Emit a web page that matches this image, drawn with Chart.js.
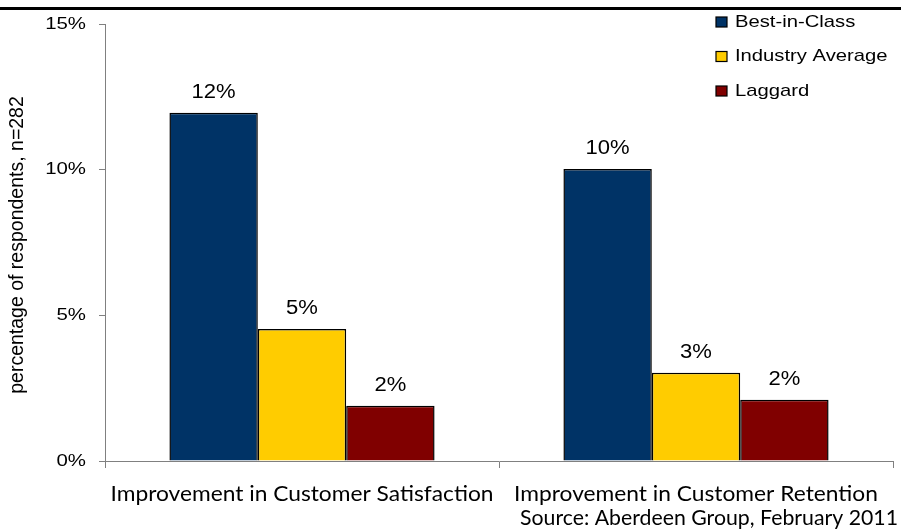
<!DOCTYPE html>
<html><head><meta charset="utf-8">
<script src="https://cdn.jsdelivr.net/npm/chart.js@4"></script>
<style>html,body{margin:0;padding:0;background:#fff}#wrap{width:901px;height:531px;position:relative}</style>
</head><body><div id="wrap"><canvas id="c" width="901" height="531"></canvas></div>
<script>
const categories = ["Improvement in Customer Satisfaction", "Improvement in Customer Retention"];
const seriesNames = ["Best-in-Class", "Industry Average", "Laggard"];
const bestInClass = [11.95, 10.02];
const industryAverage = [4.53, 3.03];
const laggard = [1.9, 2.1];
const yTicks = [0, 5, 10, 15];
const yTitle = "percentage of respondents, n=282";
const sourceText = "Source: Aberdeen Group, February 2011";
const colors = ["#003366", "#FFCC00", "#800000"];

const ARIAL = '"Liberation Sans", Arial, sans-serif';
const HUMAN = 'Lato, "Open Sans", sans-serif';

function txt(ctx, s, x, y, size, family, sx, align, baseline) {
  ctx.save();
  ctx.translate(x, y);
  ctx.scale(sx, 1);
  ctx.font = size + 'px ' + family;
  ctx.textAlign = align;
  ctx.textBaseline = baseline || 'middle';
  ctx.fillStyle = '#000';
  ctx.fillText(s, 0, 0);
  ctx.restore();
}

const extras = {
  id: 'extras',
  afterDraw(chart) {
    const ctx = chart.ctx;
    ctx.save();
    // top rule
    ctx.fillStyle = '#000';
    ctx.fillRect(0, 7, 901, 3);
    // y tick labels
    const ys = chart.scales.y;
    yTicks.forEach(v => txt(ctx, v + '%', 86, ys.getPixelForValue(v), 17, ARIAL, 1.2, 'right'));
    // x category labels (humanist font, condensed to the reference's width)
    const xs = chart.scales.x;
    ctx.font = '22px ' + HUMAN;
    const sx = 383 / ctx.measureText(categories[0]).width;
    categories.forEach((c, i) => txt(ctx, c, xs.getPixelForValue(i), 494, 22, HUMAN, sx, 'center'));
    // source
    ctx.font = '22px ' + HUMAN;
    const sx2 = 378 / ctx.measureText(sourceText).width;
    txt(ctx, sourceText, 898, 518, 22, HUMAN, sx2, 'right');
    // value labels
    chart.data.datasets.forEach((ds, i) => {
      chart.getDatasetMeta(i).data.forEach((bar, j) => {
        txt(ctx, Math.round(ds.data[j]) + '%', bar.x, bar.y - 20, 19.5, ARIAL, 1.13, 'center');
      });
    });
    // legend
    chart.data.datasets.forEach((ds, i) => {
      const y = 22 + i * 34.5;
      ctx.fillStyle = ds.backgroundColor;
      ctx.fillRect(716, y - 5, 11, 10);
      ctx.strokeStyle = '#000';
      ctx.lineWidth = 1.2;
      ctx.strokeRect(716, y - 5, 11, 10);
      txt(ctx, ds.label, 735, y, 17, ARIAL, 1.19, 'left');
    });
    // y title
    ctx.save();
    ctx.translate(18, 245);
    ctx.rotate(-Math.PI / 2);
    txt(ctx, yTitle, 0, 0, 19.5, ARIAL, 1, 'center');
    ctx.restore();
    ctx.restore();
  }
};

new Chart(document.getElementById('c'), {
  type: 'bar',
  data: {
    labels: categories,
    datasets: [
      { label: seriesNames[0], data: bestInClass, backgroundColor: colors[0] },
      { label: seriesNames[1], data: industryAverage, backgroundColor: colors[1] },
      { label: seriesNames[2], data: laggard, backgroundColor: colors[2] }
    ].map(d => Object.assign(d, { borderColor: '#000', borderWidth: 1.5, borderSkipped: 'bottom', categoryPercentage: 0.673, barPercentage: 1 }))
  },
  options: {
    responsive: false,
    animation: false,
    layout: { padding: { top: 24, right: 8, left: 0, bottom: 0 } },
    plugins: { legend: { display: false }, tooltip: { enabled: false } },
    scales: {
      x: {
        grid: { offset: true, drawOnChartArea: false, color: '#808080', tickLength: 7 },
        border: { color: '#808080', width: 1 },
        ticks: { display: false },
        afterFit(s) { s.height = 70; }
      },
      y: {
        min: 0, max: 15,
        afterBuildTicks(s) { s.ticks = yTicks.map(v => ({ value: v })); },
        grid: { drawOnChartArea: false, color: '#808080', tickLength: 6 },
        border: { color: '#808080', width: 1 },
        ticks: { display: false },
        afterFit(s) { s.width = 105; }
      }
    }
  },
  plugins: [extras]
});
</script></body></html>
